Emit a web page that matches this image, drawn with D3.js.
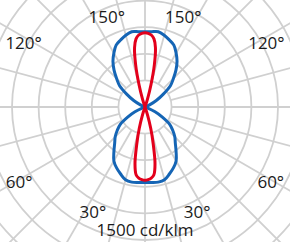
<!DOCTYPE html>
<html>
<head>
<meta charset="utf-8">
<script src="https://cdn.jsdelivr.net/npm/d3@7"></script>
<style>
  html, body { margin: 0; padding: 0; background: #fff; }
  svg { display: block; }
  text { font-family: "Open Sans", sans-serif; fill: #1a1a1a; }
</style>
</head>
<body>
<script>
// gamma angles (0 = down, 180 = up) and intensities in cd/klm
const blueGamma = [0, 5, 10, 15, 20, 25, 30, 35, 40, 45, 50, 55, 60, 65, 70, 75,
                   110, 115, 120, 125, 130, 135, 140, 145, 150, 155, 160, 165, 170, 175, 180];
const blueValues = [852, 855, 860, 849, 804, 758, 702, 611, 532, 475, 408, 340, 226, 125, 34, 0,
                    0, 57, 147, 249, 374, 453, 543, 630, 702, 770, 804, 838, 862, 852, 849];

const redGamma = [0, 2.5, 5, 7.5, 10, 12.5, 15, 17.5, 20,
                  160, 162.5, 165, 167.5, 170, 172.5, 175, 177.5, 180];
const redValues = [826, 820, 805, 770, 650, 430, 249, 91, 0,
                   0, 91, 260, 487, 679, 775, 815, 832, 838];

const ringValues = [300, 600, 900, 1200, 1500, 1800, 2100];
const tickAngles = [30, 60, 120, 150];
const tickLabels = ["30°", "60°", "120°", "150°"];
const unitLabel = "1500 cd/klm";

const width = 290, height = 242;
const cx = 145, cy = 107;

const r = d3.scaleLinear().domain([0, 300]).range([0, 26.6]);

const svg = d3.select("body").append("svg")
    .attr("width", width)
    .attr("height", height);

const g = svg.append("g").attr("transform", `translate(${cx},${cy})`);

// grid
const grid = g.append("g")
    .attr("fill", "none")
    .attr("stroke", "#d0d0d0")
    .attr("stroke-width", 1.8);

grid.selectAll("circle")
  .data(ringValues)
  .join("circle")
    .attr("r", d => r(d));

const spokes = d3.range(0, 360, 15);
grid.selectAll("line")
  .data(spokes)
  .join("line")
    .attr("x1", d => r(300) * Math.sin(d * Math.PI / 180))
    .attr("y1", d => r(300) * Math.cos(d * Math.PI / 180))
    .attr("x2", d => r(2400) * Math.sin(d * Math.PI / 180))
    .attr("y2", d => r(2400) * Math.cos(d * Math.PI / 180));

// curves, mirrored to both sides of the vertical axis
function curvePoints(gammas, values) {
  const pts = gammas.map((gm, i) => ({ a: Math.PI - gm * Math.PI / 180, v: values[i] }));
  for (let i = gammas.length - 2; i > 0; i--) {
    pts.push({ a: Math.PI + gammas[i] * Math.PI / 180, v: values[i] });
  }
  return pts;
}

const line = d3.lineRadial()
    .angle(d => d.a)
    .radius(d => r(d.v))
    .curve(d3.curveCatmullRomClosed.alpha(0.5));

g.append("path")
    .datum(curvePoints(blueGamma, blueValues))
    .attr("d", line)
    .attr("fill", "none")
    .attr("stroke", "#1565b5")
    .attr("stroke-width", 3)
    .attr("stroke-linejoin", "round");

g.append("path")
    .datum(curvePoints(redGamma, redValues))
    .attr("d", line)
    .attr("fill", "none")
    .attr("stroke", "#e3001b")
    .attr("stroke-width", 3)
    .attr("stroke-linejoin", "round");

// angle labels, placed by hand around the grid
const labelPlace = { 30: [26.5, 117], 60: [59.5, 146], 120: [118, 137.5], 150: [157, 98] };
tickAngles.forEach((a, i) => {
  const [pa, pr] = labelPlace[a];
  [-1, 1].forEach(side => {
    g.append("text")
        .attr("x", side * pr * Math.sin(pa * Math.PI / 180))
        .attr("y", pr * Math.cos(pa * Math.PI / 180))
        .attr("text-anchor", "middle")
        .attr("dominant-baseline", "central")
        .attr("font-size", 17)
        .text(tickLabels[i]);
  });
});

svg.append("text")
    .attr("x", cx)
    .attr("y", 236)
    .attr("text-anchor", "middle")
    .attr("font-size", 17)
    .text(unitLabel);
</script>
</body>
</html>
